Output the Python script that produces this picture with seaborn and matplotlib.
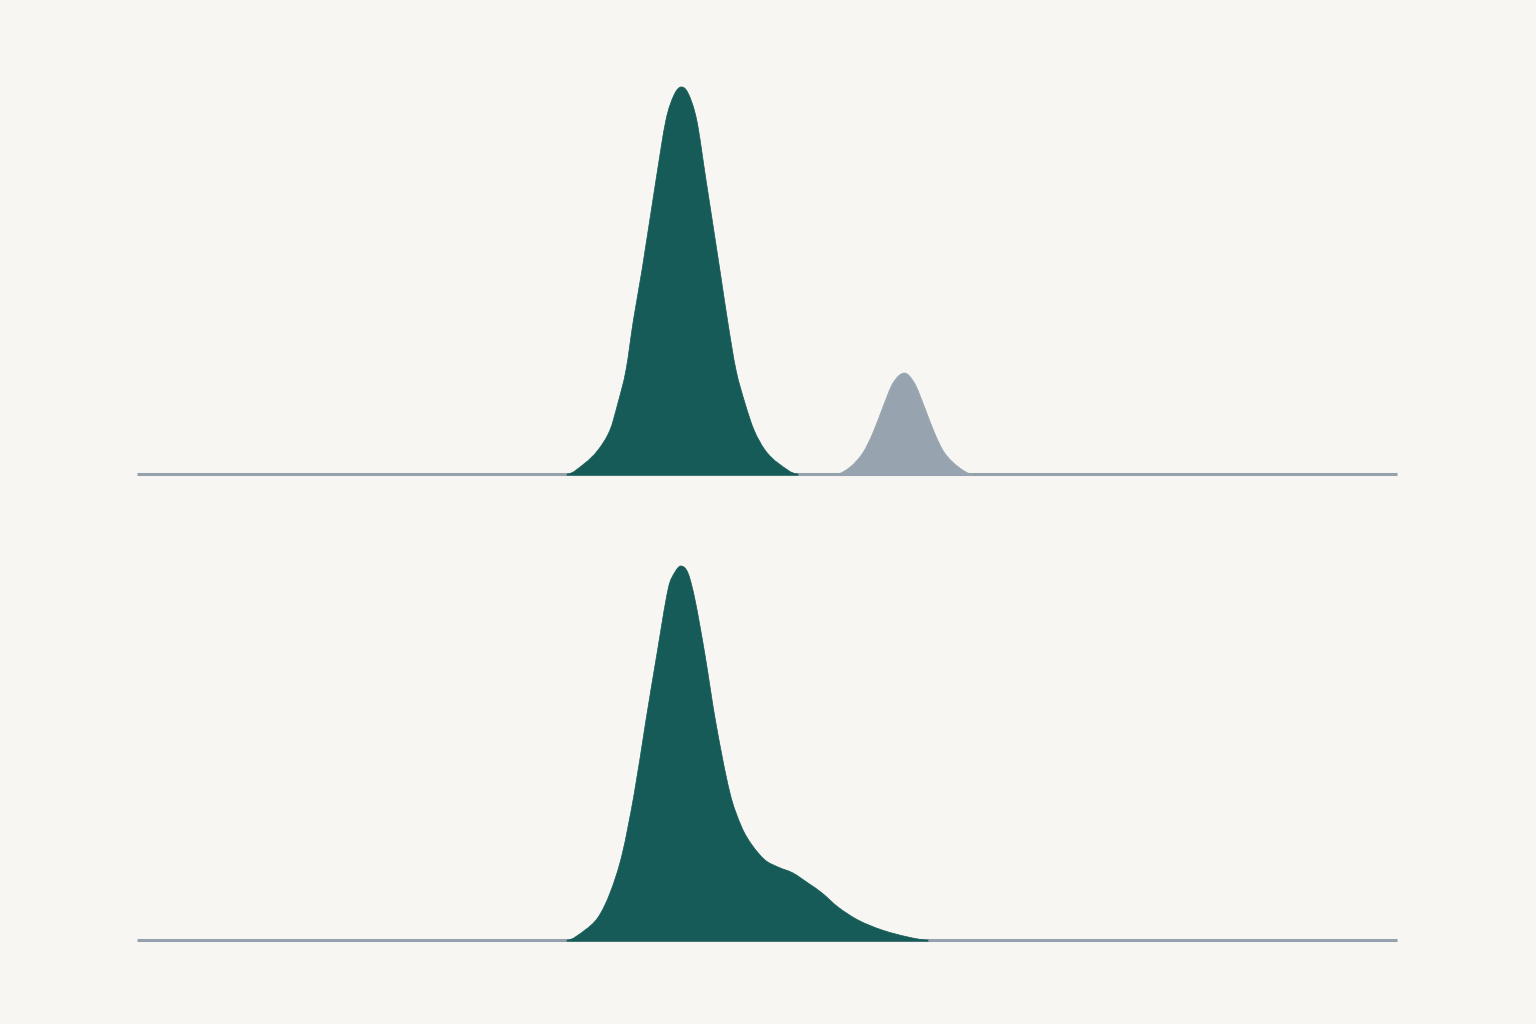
import numpy as np
import pandas as pd
import matplotlib
matplotlib.use("Agg")
import matplotlib.pyplot as plt
from matplotlib.path import Path
from matplotlib.patches import PathPatch
import seaborn as sns

# ---- data (x on a 0-100 scale, heights in arbitrary density units) ----
top_main_x = [34.13, 35.56, 36.59, 37.54, 38.17, 38.81, 39.40, 40.08, 41.19, 41.98, 42.62, 43.17,
              43.73, 44.42, 45.16, 46.31, 46.90, 47.54, 48.25, 48.97, 49.84, 50.87, 52.46]
top_main_y = [0, 11, 24, 44, 71, 104, 154, 204, 294, 354, 379, 387,
              381, 354, 294, 200, 151, 104, 71, 44, 24, 11, 0]

top_minor_x = [55.5, 56.6, 57.6, 58.4, 59.2, 60.0, 60.9, 61.7, 62.5, 63.3, 64.1, 65.2, 66.3]
top_minor_y = [0, 7, 21, 41, 67, 91, 101, 91, 67, 41, 21, 7, 0]

bottom_x = [34.13, 35.56, 36.61, 37.54, 38.49, 39.47, 40.37, 41.25, 42.17, 42.70, 43.17,
            43.73, 44.29, 45.08, 45.93, 47.06, 47.99, 48.81, 49.84, 50.87, 52.06, 53.25,
            54.37, 55.63, 57.22, 59.13, 61.19, 62.78]
bottom_y = [0, 10, 23, 47, 85, 147, 218, 285, 352, 368, 374,
            367, 340, 285, 218, 147, 113, 95, 80, 73, 67, 57,
            47, 33, 20, 10, 3, 0]

x_range = [0, 100]

# ---- style ----
BG = "#f7f6f2"
GREEN = "#165b58"
GRAY_FILL = "#97a4b0"
BASE = "#95a1ad"

sns.set_theme(style="white")
fig = plt.figure(figsize=(15.36, 10.24), dpi=100, facecolor=BG)

W, H = 1536, 1024
left = 137 / W
width = 1260 / W
ax_h_px = 420
ax_top = fig.add_axes([left, 1 - 474 / H, width, ax_h_px / H])
ax_bot = fig.add_axes([left, 1 - 940 / H, width, ax_h_px / H])


def smooth_area(ax, xs, ys, color):
    """Filled area whose top edge is a smooth cubic (Hermite/Bezier) curve through the points."""
    df = pd.DataFrame({"x": xs, "y": ys}).sort_values("x")
    x = df["x"].to_numpy(dtype=float)
    y = df["y"].to_numpy(dtype=float)
    n = len(x)
    m = np.zeros(n)
    for i in range(1, n - 1):
        m[i] = (y[i + 1] - y[i - 1]) / (x[i + 1] - x[i - 1])
    verts = [(x[0], y[0])]
    codes = [Path.MOVETO]
    for i in range(n - 1):
        dx = x[i + 1] - x[i]
        c1 = (x[i] + dx / 3, max(y[i] + m[i] * dx / 3, 0))
        c2 = (x[i + 1] - dx / 3, max(y[i + 1] - m[i + 1] * dx / 3, 0))
        verts += [c1, c2, (x[i + 1], y[i + 1])]
        codes += [Path.CURVE4] * 3
    base = -1.2
    verts += [(x[-1], base), (x[0], base), (x[0], y[0])]
    codes += [Path.LINETO, Path.LINETO, Path.CLOSEPOLY]
    patch = PathPatch(Path(verts, codes), facecolor=color, edgecolor=color,
                      lw=0.5, zorder=2, clip_on=False)
    ax.add_patch(patch)


def draw(ax, series):
    ax.set_facecolor("none")
    ax.axhline(0, color=BASE, lw=2.2, zorder=1, solid_capstyle="butt", clip_on=False)
    for xs, ys, col in series:
        smooth_area(ax, xs, ys, col)
    ax.set_xlim(*x_range)
    ax.set_ylim(0, ax_h_px)
    ax.set_xlabel("")
    ax.set_ylabel("")
    ax.set_xticks([])
    ax.set_yticks([])
    sns.despine(ax=ax, left=True, bottom=True)


draw(ax_top, [(top_main_x, top_main_y, GREEN), (top_minor_x, top_minor_y, GRAY_FILL)])
draw(ax_bot, [(bottom_x, bottom_y, GREEN)])

fig.savefig("out.png", dpi=100, facecolor=BG)
